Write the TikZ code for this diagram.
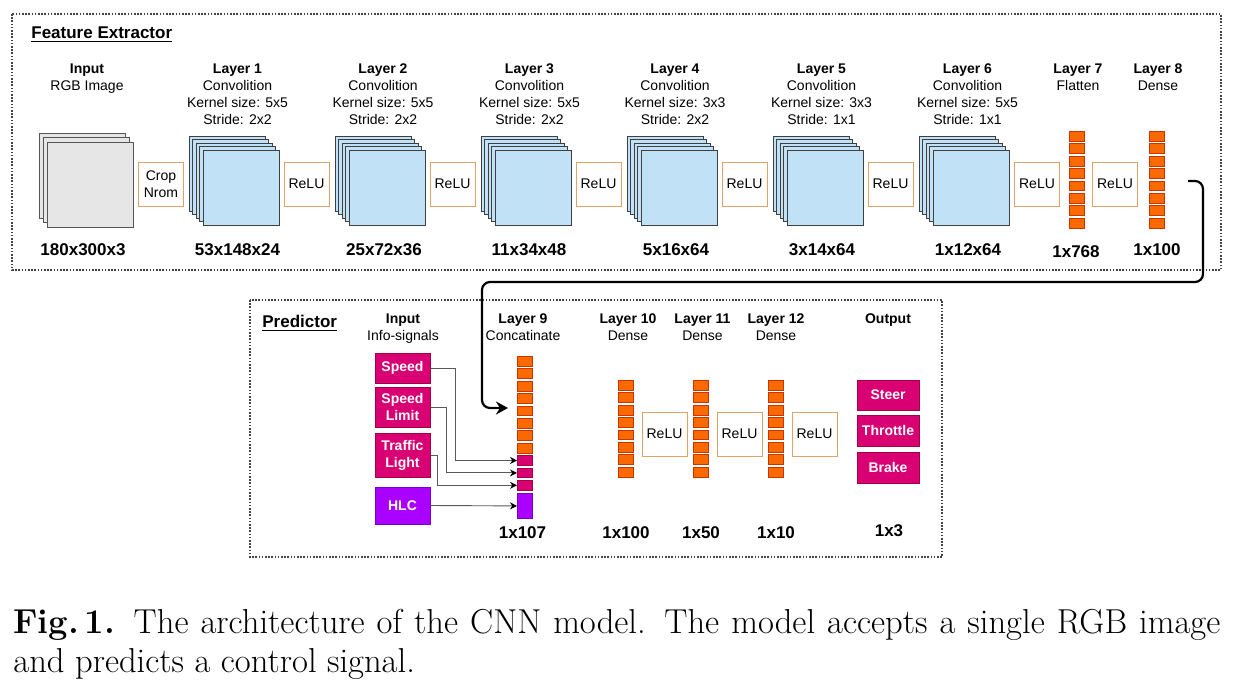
\documentclass[tikz,border=0pt]{standalone}
\usepackage{fontspec}
\newfontfamily\arial{Liberation Sans}
\usetikzlibrary{arrows.meta}
\definecolor{fmapf}{HTML}{C1E2F6}
\definecolor{fmapb}{HTML}{3F3F3F}
\definecolor{inf}{HTML}{E6E6E6}
\definecolor{inb}{HTML}{555555}
\definecolor{reluc}{HTML}{DFA465}
\definecolor{cellf}{HTML}{FA6800}
\definecolor{cellb}{HTML}{C73500}
\definecolor{magf}{HTML}{D80073}
\definecolor{magb}{HTML}{A50040}
\definecolor{purf}{HTML}{AA00FF}
\definecolor{purb}{HTML}{7700CC}
\definecolor{framec}{HTML}{444444}
\begin{document}
\begin{tikzpicture}[x=0.5pt,y=-0.5pt,
  hdr/.style={font=\arial\fontsize{7pt}{8.5pt}\selectfont, align=center, anchor=north, inner sep=0pt},
  dim/.style={font=\arial\bfseries\fontsize{8.5pt}{10pt}\selectfont, inner sep=0pt},
  ttl/.style={font=\arial\bfseries\fontsize{8.5pt}{10pt}\selectfont, inner sep=0pt, anchor=west},
  relu/.style={draw=reluc, line width=0.5pt, fill=white, minimum width=22.5pt, minimum height=22pt, inner sep=0pt, font=\arial\fontsize{7pt}{8.5pt}\selectfont, align=center},
  cell/.style={draw=cellb, fill=cellf, line width=0.4pt, minimum width=7.5pt, minimum height=4.9pt, inner sep=0pt, anchor=north west},
  fmap/.style={draw=fmapb, fill=fmapf, line width=0.4pt},
  imap/.style={draw=inb, fill=inf, line width=0.4pt},
  frame/.style={draw=framec, line width=0.9pt, dash pattern=on 0.8pt off 0.8pt},
  sigbox/.style={draw=magb, fill=magf, line width=0.5pt, text=white, font=\arial\bfseries\fontsize{7pt}{8.5pt}\selectfont, align=center, minimum width=27.5pt, inner sep=0pt},
  sig/.style={draw=black!65, line width=0.45pt, -{Stealth[length=3.5pt,width=3.5pt,black]}},
  bigarrow/.style={draw=black, line width=1.1pt, rounded corners=4pt, -{Stealth[length=6pt,width=6.5pt]}}
]
\useasboundingbox (0,0) rectangle (1241,691);

% ---------------- Feature extractor ----------------
\draw[frame] (12,14) rectangle (1221,270);
\node[ttl] (fetitle) at (31,35) {\underline{Feature Extractor}};

% headers
\node[hdr] (hin) at (87,63) {\textbf{Input}\\RGB Image};
\node[hdr] (h1) at (237.5,63) {\textbf{Layer 1}\\Convolition\\Kernel size: 5x5\\Stride: 2x2};
\node[hdr] (h2) at (383,63) {\textbf{Layer 2}\\Convolition\\Kernel size: 5x5\\Stride: 2x2};
\node[hdr] (h3) at (529.5,63) {\textbf{Layer 3}\\Convolition\\Kernel size: 5x5\\Stride: 2x2};
\node[hdr] (h4) at (675,63) {\textbf{Layer 4}\\Convolition\\Kernel size: 3x3\\Stride: 2x2};
\node[hdr] (h5) at (821.5,63) {\textbf{Layer 5}\\Convolition\\Kernel size: 3x3\\Stride: 1x1};
\node[hdr] (h6) at (967.5,63) {\textbf{Layer 6}\\Convolition\\Kernel size: 5x5\\Stride: 1x1};
\node[hdr] (h7) at (1078,63) {\textbf{Layer 7}\\Flatten};
\node[hdr] (h8) at (1158,63) {\textbf{Layer 8}\\Dense};

% input image stack
\foreach \i in {0,1,2} {
  \draw[imap] ({39+4*\i},{133+4.5*\i}) rectangle ++(86,85);
}
% conv stacks
\foreach \k in {0,...,5} {
  \foreach \i in {0,...,4} {
    \draw[fmap] ({189+146*\k+3.5*\i},{136+3.5*\i}) rectangle ++(76,75);
  }
}

% crop / relu boxes
\node[relu] (crop) at (161,184) {Crop\\Nrom};
\node[relu] (r1) at (306.5,184) {ReLU};
\node[relu] (r2) at (452.5,184) {ReLU};
\node[relu] (r3) at (598.5,184) {ReLU};
\node[relu] (r4) at (744.5,184) {ReLU};
\node[relu] (r5) at (890.5,184) {ReLU};
\node[relu] (r6) at (1037,184) {ReLU};
\node[relu] (r7) at (1115,184) {ReLU};

% flatten / dense columns
\foreach \j in {0,...,7} {
  \node[cell] (L7-\j) at (1069,{131+12.4*\j}) {};
  \node[cell] (L8-\j) at (1149,{131+12.4*\j}) {};
}

% dims
\node[dim] (d0) at (83,250) {180x300x3};
\node[dim] (d1) at (237.5,250) {53x148x24};
\node[dim] (d2) at (384,250) {25x72x36};
\node[dim] (d3) at (529,250) {11x34x48};
\node[dim] (d4) at (676,250) {5x16x64};
\node[dim] (d5) at (822,250) {3x14x64};
\node[dim] (d6) at (968,250) {1x12x64};
\node[dim] (d7) at (1076,252) {1x768};
\node[dim] (d8) at (1157,250) {1x100};

% ---------------- Predictor ----------------
\draw[frame] (250,300) rectangle (942,557);
\node[ttl] (prtitle) at (262,323) {\underline{Predictor}};

\node[hdr] (hp0) at (403,313) {\textbf{Input}\\Info-signals};
\node[hdr] (h9) at (523,313) {\textbf{Layer 9}\\Concatinate};
\node[hdr] (h10) at (628,313) {\textbf{Layer 10}\\Dense};
\node[hdr] (h11) at (702.5,313) {\textbf{Layer 11}\\Dense};
\node[hdr] (h12) at (776,313) {\textbf{Layer 12}\\Dense};
\node[hdr] (hout) at (888,313) {\textbf{Output}};

% input signal boxes
\node[sigbox, minimum height=15pt] (speed) at (402.5,368) {Speed};
\node[sigbox, minimum height=20pt] (slimit) at (402.5,407) {Speed\\Limit};
\node[sigbox, minimum height=22pt] (traffic) at (402.5,455) {Traffic\\Light};
\node[sigbox, draw=purb, fill=purf, minimum height=18.5pt] (hlc) at (402.5,505.5) {HLC};

% layer 9 concat column
\foreach \j in {0,...,7} {
  \node[cell] (L9-\j) at (517,{356+12.4*\j}) {};
}
\foreach \j/\n in {8/1,9/2,10/3} {
  \node[cell, draw=magb, fill=magf] (m\n) at (517,{356+12.4*\j}) {};
}
\node[cell, draw=purb, fill=purf, minimum height=12.5pt] (pcell) at (517,493) {};

% dense columns
\foreach \j in {0,...,7} {
  \node[cell] (L10-\j) at (618,{380+12.4*\j}) {};
  \node[cell] (L11-\j) at (693,{380+12.4*\j}) {};
  \node[cell] (L12-\j) at (768,{380+12.4*\j}) {};
}
\node[relu] (pr1) at (664.5,434) {ReLU};
\node[relu] (pr2) at (739.5,434) {ReLU};
\node[relu] (pr3) at (814.5,434) {ReLU};

% outputs
\node[sigbox, minimum width=31pt, minimum height=15pt] (steer) at (888,395) {Steer};
\node[sigbox, minimum width=31pt, minimum height=15.5pt] (throttle) at (888,430.5) {Throttle};
\node[sigbox, minimum width=31pt, minimum height=15.5pt] (brake) at (888,467.5) {Brake};

% dims
\node[dim] (d9) at (522.5,533) {1x107};
\node[dim] (d10) at (626,533) {1x100};
\node[dim] (d11) at (701,533) {1x50};
\node[dim] (d12) at (776,533) {1x10};
\node[dim] (dout) at (889,531) {1x3};

% connectors
\draw[sig] (speed.east) -- ++(25,0) |- (m1.west);
\draw[sig] (slimit.east) -- ++(16,0) |- (m2.west);
\draw[sig] (traffic.east) -- ++(7,0) |- (m3.west);
\draw[sig] (hlc.east) -- (pcell.west);

\coordinate (fxout) at (1188,181);
\coordinate (cin) at (508,408);
\draw[bigarrow] (fxout) -| (1203,282) -| (482,408) -- (cin);

% caption
\node[anchor=base west, inner sep=0pt] (caption) at (13,633) {\parbox[t]{603.5pt}{\fontsize{17.3pt}{19.5pt}\selectfont\textbf{Fig.\,1.} The architecture of the CNN model. The model accepts a single RGB image\linebreak and predicts a control signal.}};
\end{tikzpicture}
\end{document}
